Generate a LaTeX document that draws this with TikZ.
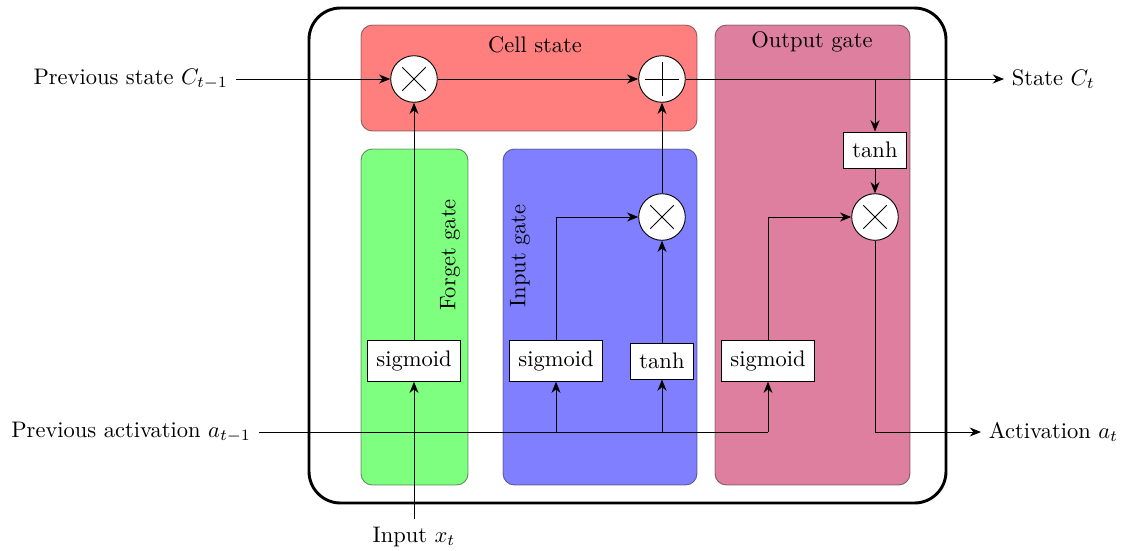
\documentclass[tikz,border=0pt]{standalone}
\usetikzlibrary{arrows.meta}
\pgfdeclarelayer{bg}
\pgfdeclarelayer{boxes}
\pgfdeclarelayer{lines}
\pgfsetlayers{bg,boxes,lines,main}
\begin{document}
\begin{tikzpicture}[x=0.4444pt,y=-0.4444pt,
  conn/.style={-{Stealth[length=5pt,width=4pt]}},
  op/.style={circle,draw,fill=white,minimum size=20.7pt,inner sep=0pt},
  fn/.style={draw,fill=white,inner xsep=4pt,inner ysep=4.5pt},
  gatebox/.style={rounded corners=5pt,draw=black,draw opacity=0.45,fill opacity=0.5},
  lbl/.style={inner sep=0pt}]
\useasboundingbox (0,0) rectangle (1124,550);

% operators
\node[op] (m1) at (414,79) {};
\node[op] (add) at (662,79) {};
\draw ([xshift=-7.5pt]add.center) -- ([xshift=7.5pt]add.center) ([yshift=-7.5pt]add.center) -- ([yshift=7.5pt]add.center);
\node[op] (m2) at (662,217) {};
\node[op] (m3) at (875,217) {};
\foreach \n in {m1,m2,m3}{
  \draw ([shift={(-5.2pt,-5.2pt)}]\n.center) -- ([shift={(5.2pt,5.2pt)}]\n.center)
        ([shift={(-5.2pt,5.2pt)}]\n.center) -- ([shift={(5.2pt,-5.2pt)}]\n.center);
}

% functions
\node[fn] (s1) at (414,361) {sigmoid};
\node[fn] (s2) at (556,361) {sigmoid};
\node[fn] (t1) at (662,361) {tanh};
\node[fn] (s3) at (768,361) {sigmoid};
\node[fn] (t2) at (875,150) {tanh};

% outside texts
\node[anchor=east] (pc) at (236,79) {Previous state $C_{t-1}$};
\node[anchor=west] (sc) at (1004,79) {State $C_t$};
\node[anchor=east] (pa) at (259,432) {Previous activation $a_{t-1}$};
\node[anchor=west] (ac) at (981,432) {Activation $a_t$};
\node (x) at (414,537) {Input $x_t$};

% box labels
\node[lbl] (lcs) at (535,45) {Cell state};
\node[lbl] (log) at (812,42) {Output gate};
\node[lbl,rotate=90] (lfg) at (450,255) {Forget gate};
\node[lbl,rotate=90] (lig) at (520,256) {Input gate};

% coordinates
\coordinate (br) at (875,79);
\coordinate (b2) at (556,432);
\coordinate (b3) at (662,432);
\coordinate (b4) at (768,432);

\begin{pgfonlayer}{bg}
  \draw[line width=1.3pt,rounded corners=14pt,fill=white] (309,8) rectangle (946,503);
\end{pgfonlayer}

\begin{pgfonlayer}{lines}
  \draw[conn] (pc.east) -- (m1);
  \draw[conn] (m1) -- (add);
  \draw[conn] (add) -- (sc.west);
  \draw[conn] (br) -- (t2);
  \draw[conn] (t2) -- (m3);
  \draw[conn] (m3) |- (ac.west);
  \draw (pa.east) -- (b4);
  \draw[conn] (b4) -- (s3);
  \draw[conn] (b2) -- (s2);
  \draw[conn] (b3) -- (t1);
  \draw[conn] (x) -- (s1);
  \draw[conn] (s1) -- (m1);
  \draw[conn] (s2) |- (m2);
  \draw[conn] (t1) -- (m2);
  \draw[conn] (m2) -- (add);
  \draw[conn] (s3) |- (m3);
\end{pgfonlayer}

\begin{pgfonlayer}{boxes}
  \path[gatebox,fill=red] (361,25) rectangle (697,131);
  \path[gatebox,fill={rgb,1:red,0.75;green,0;blue,0.25}] (715,25) rectangle (910,485);
  \path[gatebox,fill=green] (361,149) rectangle (468,485);
  \path[gatebox,fill=blue] (503,149) rectangle (697,485);
\end{pgfonlayer}
\end{tikzpicture}
\end{document}
